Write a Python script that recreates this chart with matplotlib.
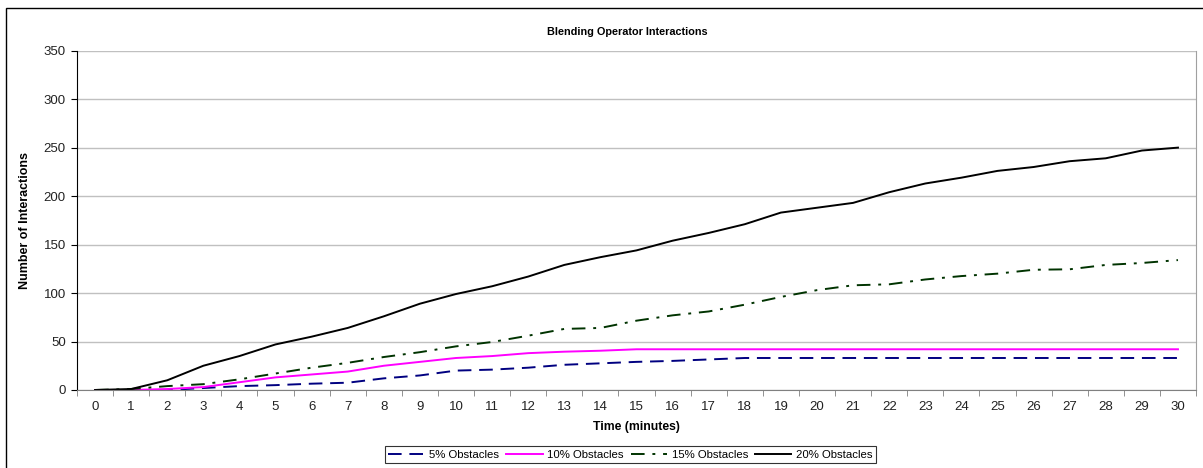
import numpy as np
import matplotlib.pyplot as plt
from matplotlib.patches import Rectangle

plt.rcParams['font.family'] = ['Liberation Sans', 'DejaVu Sans']

minutes = list(range(31))
obst_5 = [0, 0, 0, 2, 4, 5, 6.5, 7.5, 12, 15, 20, 21, 23, 26, 27.5, 29, 30, 31.5,
          33, 33, 33, 33, 33, 33, 33, 33, 33, 33, 33, 33, 33]
obst_10 = [0, 0, 1, 3, 8, 13, 16, 19, 25, 29, 33, 35, 38, 39.5, 40.5, 42, 42, 42,
           42, 42, 42, 42, 42, 42, 42, 42, 42, 42, 42, 42, 42]
obst_15 = [0, 1, 4, 6, 11, 17, 23, 28, 34, 39, 45, 49.5, 56, 63, 64, 71.5, 77, 81,
           88, 96, 103, 108, 109, 114, 117.5, 120, 124, 124.5, 129, 131, 134]
obst_20 = [0, 1, 10, 25, 35, 47, 55, 64, 76, 89, 99, 107, 117, 129, 137, 144, 154,
           162, 171, 183, 188, 193, 204, 213, 219, 226, 230, 236, 239, 247, 250]

series_names = ['5% Obstacles', '10% Obstacles', '15% Obstacles', '20% Obstacles']

fig = plt.figure(figsize=(12.03, 4.68), dpi=100)
ax = fig.add_axes([0.064, 0.1667, 0.9302, 0.725])

# outer chart frame
fig.patches.append(Rectangle((6 / 1203, -0.01), 1.2, (468 - 8) / 468 + 0.01,
                             transform=fig.transFigure, fill=False,
                             edgecolor='black', linewidth=1.0))

ax.plot(minutes, obst_5, color='#000080', linewidth=1.4, dashes=(7, 4),
        label=series_names[0])
ax.plot(minutes, obst_10, color='#FF00FF', linewidth=1.4, label=series_names[1])
ax.plot(minutes, obst_15, color='#003300', linewidth=1.4, dashes=(7, 4, 1.5, 4),
        label=series_names[2])
ax.plot(minutes, obst_20, color='black', linewidth=1.4, label=series_names[3])

ax.set_xlim(-0.5, 30.5)
ax.set_ylim(0, 350)
ax.set_yticks(np.arange(0, 351, 50))
ax.set_xticks(minutes)
ax.set_xticks(np.arange(-0.5, 31, 1), minor=True)
ax.tick_params(axis='x', which='major', length=0, pad=8, labelsize=9.5,
               labelcolor='#222222')
ax.tick_params(axis='x', which='minor', length=4, direction='out', color='#808080')
ax.tick_params(axis='y', length=4, direction='out', labelsize=9.5,
               labelcolor='#222222', pad=4)

ax.grid(axis='y', color='#c0c0c0', linewidth=1.0)
ax.set_axisbelow(True)
ax.spines['top'].set_visible(False)
ax.spines['right'].set_color('#a0a0a0')
ax.spines['bottom'].set_color('#808080')
ax.spines['left'].set_color('black')

ax.set_title('Blending Operator Interactions', fontsize=7.8, fontweight='bold',
             pad=11, x=0.492)
ax.set_xlabel('Time (minutes)', fontsize=8.8, fontweight='bold', labelpad=6)
ax.set_ylabel('Number of Interactions', fontsize=9, fontweight='bold',
              labelpad=9)

leg = fig.legend(loc='center', bbox_to_anchor=(0.524, 0.028), ncol=4,
                 fontsize=8.2, frameon=True, fancybox=False, edgecolor='black',
                 handlelength=3.2, handletextpad=0.4, columnspacing=0.6,
                 borderpad=0.3, borderaxespad=0)
leg.get_frame().set_linewidth(0.8)

fig.savefig('out.png', dpi=100)
